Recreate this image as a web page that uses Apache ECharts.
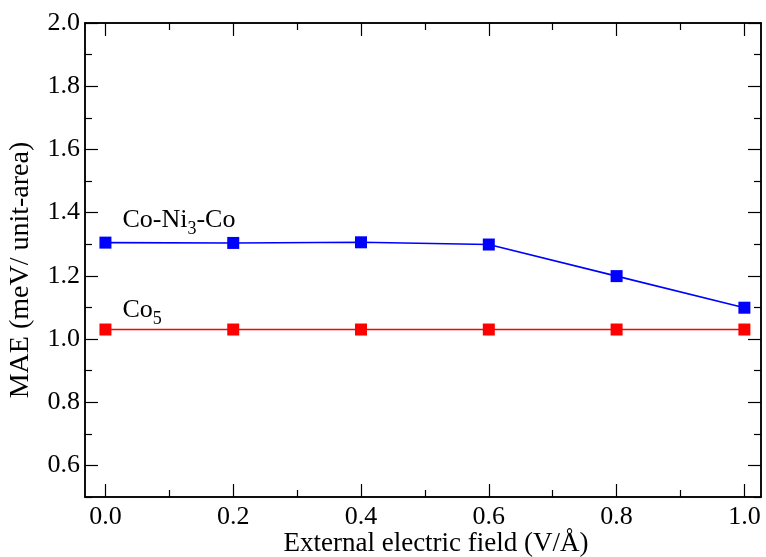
<!DOCTYPE html>
<html>
<head>
<meta charset="utf-8">
<script src="https://cdn.jsdelivr.net/npm/echarts@6/dist/echarts.min.js"></script>
<style>
  html, body { margin: 0; padding: 0; background: #fff; }
  #chart { width: 766px; height: 557px; }
</style>
</head>
<body>
<div id="chart"></div>
<script>
// Field strength (V/Å)
const fields = [0.0, 0.2, 0.4, 0.6, 0.8, 1.0];
// MAE (meV / unit-area)
const coNi3Co = [1.305, 1.304, 1.306, 1.299, 1.199, 1.099];
const co5 = [1.030, 1.030, 1.030, 1.030, 1.030, 1.030];

const xMajor = [0.0, 0.2, 0.4, 0.6, 0.8, 1.0];
const xMinor = [0.1, 0.3, 0.5, 0.7, 0.9];
const yMajor = [0.6, 0.8, 1.0, 1.2, 1.4, 1.6, 1.8, 2.0];
const yMinor = [0.5, 0.7, 0.9, 1.1, 1.3, 1.5, 1.7, 1.9];

const FONT = 'Liberation Serif';
const X_MIN = -0.032, X_MAX = 1.026, Y_MIN = 0.5, Y_MAX = 2.0;

function xAxisDef(pos, ticks, len, opts) {
  return Object.assign({
    type: 'value', position: pos, min: X_MIN, max: X_MAX,
    axisLine: { show: true, onZero: false, lineStyle: { color: '#000', width: 1.5 } },
    axisTick: { show: true, inside: true, length: len, customValues: ticks, lineStyle: { color: '#000', width: 1.2 } },
    axisLabel: { show: false },
    splitLine: { show: false }
  }, opts || {});
}
function yAxisDef(pos, ticks, len, opts) {
  return Object.assign({
    type: 'value', position: pos, min: Y_MIN, max: Y_MAX,
    axisLine: { show: true, onZero: false, lineStyle: { color: '#000', width: 1.5 } },
    axisTick: { show: true, inside: true, length: len, customValues: ticks, lineStyle: { color: '#000', width: 1.2 } },
    axisLabel: { show: false },
    splitLine: { show: false }
  }, opts || {});
}

const chart = echarts.init(document.getElementById('chart'), null, { renderer: 'canvas' });

const option = {
  backgroundColor: '#fff',
  animation: false,
  grid: { left: 85, right: 5, top: 23, bottom: 60, containLabel: false, outerBoundsMode: 'none' },
  xAxis: [
    xAxisDef('bottom', xMajor, 13, {
      axisLabel: {
        show: true, customValues: xMajor, margin: 7,
        fontFamily: FONT, fontSize: 26, color: '#000',
        formatter: v => v.toFixed(1)
      },
      name: 'External electric field (V/Å)', nameLocation: 'middle', nameGap: 33,
      nameMoveOverlap: false,
      nameTextStyle: { fontFamily: FONT, fontSize: 27, color: '#000', padding: [0, 0, 0, 26] }
    }),
    xAxisDef('bottom', xMinor, 7),
    xAxisDef('top', xMajor, 13),
    xAxisDef('top', xMinor, 7)
  ],
  yAxis: [
    yAxisDef('left', yMajor, 13, {
      axisLabel: {
        show: true, customValues: yMajor, margin: 5,
        fontFamily: FONT, fontSize: 26, color: '#000',
        formatter: v => v.toFixed(1)
      },
      name: 'MAE (meV/ unit-area)', nameLocation: 'middle', nameGap: 50,
      nameMoveOverlap: false,
      nameTextStyle: { fontFamily: FONT, fontSize: 28, color: '#000', padding: [0, 20, 0, 0] }
    }),
    yAxisDef('left', yMinor, 7),
    yAxisDef('right', yMajor, 13),
    yAxisDef('right', yMinor, 7)
  ],
  series: [
    {
      name: 'Co-Ni3-Co', type: 'line', xAxisIndex: 0, yAxisIndex: 0,
      data: fields.map((x, i) => [x, coNi3Co[i]]),
      symbol: 'rect', symbolSize: 12,
      itemStyle: { color: '#0000ff' },
      lineStyle: { color: '#0000ff', width: 1.6 }
    },
    {
      name: 'Co5', type: 'line', xAxisIndex: 0, yAxisIndex: 0,
      data: fields.map((x, i) => [x, co5[i]]),
      symbol: 'rect', symbolSize: 12,
      itemStyle: { color: '#ff0000' },
      lineStyle: { color: '#ff0000', width: 1.6 }
    }
  ]
};

chart.setOption(option);

// Series name labels, anchored next to the first point of each curve
const rich = {
  a: { fontFamily: FONT, fontSize: 26, color: '#000', lineHeight: 36, verticalAlign: 'middle' },
  s: { fontFamily: FONT, fontSize: 18, color: '#000', lineHeight: 36, verticalAlign: 'bottom' }
};
const pBlue = chart.convertToPixel({ xAxisIndex: 0, yAxisIndex: 0 }, [fields[0], coNi3Co[0]]);
const pRed = chart.convertToPixel({ xAxisIndex: 0, yAxisIndex: 0 }, [fields[0], co5[0]]);
chart.setOption({
  graphic: [
    {
      type: 'text', x: pBlue[0] + 17, y: pBlue[1] - 40,
      style: { text: '{a|Co-Ni}{s|3}{a|-Co}', rich: rich }
    },
    {
      type: 'text', x: pRed[0] + 17, y: pRed[1] - 37,
      style: { text: '{a|Co}{s|5}', rich: rich }
    }
  ]
});
</script>
</body>
</html>
